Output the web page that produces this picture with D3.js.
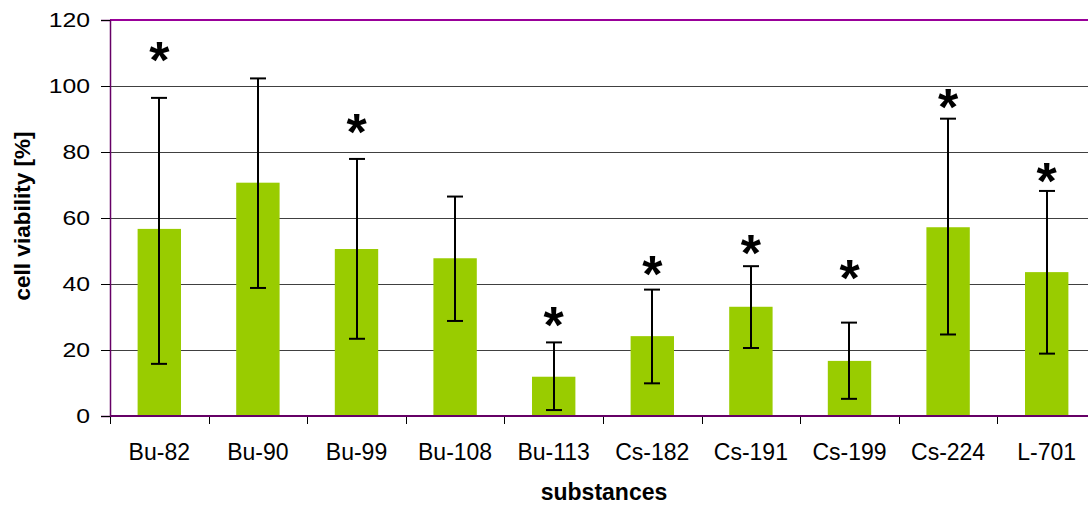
<!DOCTYPE html>
<html>
<head>
<meta charset="utf-8">
<script src="https://cdn.jsdelivr.net/npm/d3@7"></script>
<style>
  body { margin: 0; background: #fff; }
  svg { display: block; font-family: Arial, "Liberation Sans", sans-serif; }
</style>
</head>
<body>
<svg width="1088" height="505"></svg>
<script>
// substances and their mean viability, with the lower / upper ends of the error bars
const substances = ["Bu-82", "Bu-90", "Bu-99", "Bu-108", "Bu-113", "Cs-182", "Cs-191", "Cs-199", "Cs-224", "L-701"];
const viability = [56.7, 70.7, 50.6, 47.8, 11.9, 24.2, 33.1, 16.7, 57.2, 43.6];
const err_low = [15.8, 38.8, 23.4, 28.8, 1.8, 9.9, 20.6, 5.2, 24.7, 18.9];
const err_high = [96.4, 102.3, 77.9, 66.5, 22.3, 38.3, 45.4, 28.3, 90.1, 68.2];
// where the significance star sits (null = no star)
const star_at = [109.4, null, 87.6, null, 29.1, 44.8, 51.2, 43.6, 95.2, 73.0];
const y_ticks = [0, 20, 40, 60, 80, 100, 120];

const svg = d3.select("svg");
const margin = { left: 110, right: -8, top: 20, bottom: 89 };
const width = +svg.attr("width"), height = +svg.attr("height");

const x = d3.scaleBand()
    .domain(substances)
    .range([margin.left, width - margin.right])
    .paddingInner(0.56)
    .paddingOuter(0.28);
const band = d3.scaleBand().domain(substances).range([margin.left, width - margin.right]);
const y = d3.scaleLinear().domain([0, 120]).range([height - margin.bottom, margin.top]);

// Gridlines
svg.append("g")
    .selectAll("line")
    .data(y_ticks.filter(d => d > 0 && d < 120))
    .enter()
    .append("line")
        .attr("x1", margin.left).attr("x2", width)
        .attr("y1", d => Math.round(y(d)) + 0.5).attr("y2", d => Math.round(y(d)) + 0.5)
        .attr("stroke", "#404040")
        .attr("stroke-width", 1);

// top border
svg.append("line")
    .attr("x1", margin.left).attr("x2", width)
    .attr("y1", y(120)).attr("y2", y(120))
    .attr("stroke", "#990099").attr("stroke-width", 2);

// Bars
svg.append("g")
    .selectAll("rect")
    .data(substances)
    .enter()
    .append("rect")
        .attr("x", d => x(d))
        .attr("width", x.bandwidth())
        .attr("y", (d, i) => y(viability[i]))
        .attr("height", (d, i) => y(0) - y(viability[i]))
        .attr("fill", "#99cc00");

// Error bars
const errs = svg.append("g").attr("stroke", "#000").attr("stroke-width", 2);
substances.forEach(function(s, i) {
    const cx = Math.round(band(s) + band.bandwidth() / 2);
    errs.append("line").attr("x1", cx).attr("x2", cx).attr("y1", y(err_low[i])).attr("y2", y(err_high[i]));
    errs.append("line").attr("x1", cx - 8).attr("x2", cx + 8).attr("y1", y(err_low[i])).attr("y2", y(err_low[i]));
    errs.append("line").attr("x1", cx - 8).attr("x2", cx + 8).attr("y1", y(err_high[i])).attr("y2", y(err_high[i]));
});

// Stars
svg.append("g")
    .selectAll("text")
    .data(substances.filter((s, i) => star_at[i] !== null))
    .enter()
    .append("text")
        .attr("x", d => band(d) + band.bandwidth() / 2)
        .attr("y", d => y(star_at[substances.indexOf(d)]) + 23.5)
        .attr("text-anchor", "middle")
        .style("font-size", "52px")
        .style("font-weight", "bold")
        .text("*");

// Y axis (labels are a bit wider than the font, so stretch them)
const stretch = 1.18;
const yAxis = svg.append("g")
    .attr("transform", `translate(${margin.left},0)`)
    .call(d3.axisLeft(y).tickValues(y_ticks).tickSize(9).tickPadding(11));
yAxis.select(".domain").attr("stroke", "#660066").attr("stroke-width", 1.5);
yAxis.selectAll(".tick line").attr("stroke", "#000");
yAxis.selectAll(".tick text")
    .attr("x", -20 / stretch)
    .attr("transform", `scale(${stretch},1)`)
    .style("font-size", "21px")
    .style("font-family", "Arial, 'Liberation Sans', sans-serif")
    .attr("fill", "#000");

// X axis, ticks on the band edges
const xAxis = svg.append("g").attr("transform", `translate(0,${y(0)})`);
xAxis.selectAll(".edge")
    .data(substances)
    .enter()
    .append("line")
        .attr("class", "edge")
        .attr("x1", d => Math.round(band(d)) + 0.5).attr("x2", d => Math.round(band(d)) + 0.5)
        .attr("y1", 0).attr("y2", 8)
        .attr("stroke", "#000");
xAxis.append("line")
    .attr("x1", margin.left).attr("x2", width)
    .attr("stroke", "#660066").attr("stroke-width", 2);
xAxis.selectAll(".lbl")
    .data(substances)
    .enter()
    .append("text")
        .attr("class", "lbl")
        .attr("x", d => band(d) + band.bandwidth() / 2)
        .attr("y", 44)
        .attr("text-anchor", "middle")
        .style("font-size", "23px")
        .text(d => d);

// Axis titles
svg.append("text")
    .attr("transform", `translate(30,216) rotate(-90)`)
    .attr("text-anchor", "middle")
    .style("font-size", "22.5px")
    .style("font-weight", "bold")
    .text("cell viability [%]");

svg.append("text")
    .attr("x", 604)
    .attr("y", 500)
    .attr("text-anchor", "middle")
    .style("font-size", "23px")
    .style("font-weight", "bold")
    .text("substances");
</script>
</body>
</html>
